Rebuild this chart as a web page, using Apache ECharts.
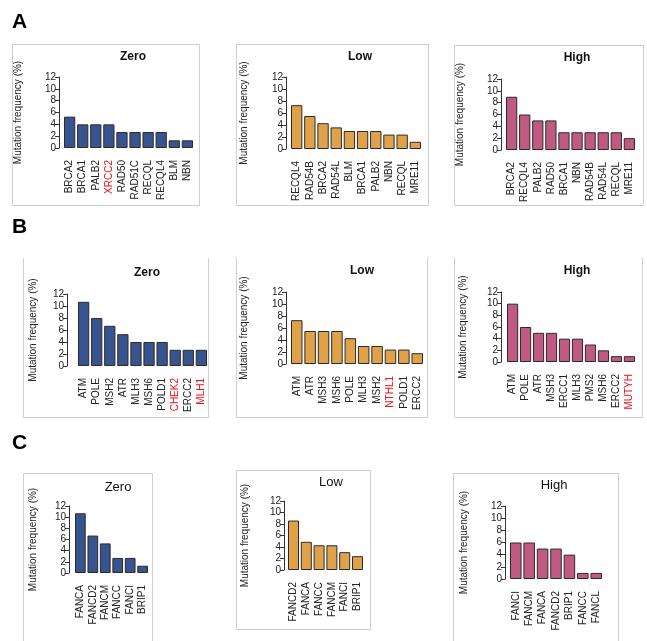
<!DOCTYPE html>
<html><head><meta charset="utf-8">
<script src="https://cdn.jsdelivr.net/npm/echarts@6/dist/echarts.min.js"></script>
<style>html,body{margin:0;padding:0;background:#fff}#c{width:647px;height:641px}</style>
</head><body><div id="c"></div>
<script>
// ---- data ----
const yTicks = [0, 2, 4, 6, 8, 10, 12];
const groupTitles = ['Zero', 'Low', 'High'];
const panelLetters = ['A', 'B', 'C'];
const yAxisTitle = 'Mutation frequency (%)';

const aZeroGenes = ['BRCA2','BRCA1','PALB2','XRCC2','RAD50','RAD51C','RECQL','RECQL4','BLM','NBN'];
const aZeroFreq  = [5.3, 4.0, 4.0, 4.0, 2.7, 2.7, 2.7, 2.7, 1.3, 1.3];
const aLowGenes  = ['RECQL4','RAD54B','BRCA2','RAD54L','BLM','BRCA1','PALB2','NBN','RECQL','MRE11'];
const aLowFreq   = [7.3, 5.5, 4.3, 3.6, 3.0, 3.0, 3.0, 2.4, 2.4, 1.2];
const aHighGenes = ['BRCA2','RECQL4','PALB2','RAD50','BRCA1','NBN','RAD54B','RAD54L','RECQL','MRE11'];
const aHighFreq  = [9, 6, 5, 5, 3, 3, 3, 3, 3, 2];

const bZeroGenes = ['ATM','POLE','MSH2','ATR','MLH3','MSH6','POLD1','CHEK2','ERCC2','MLH1'];
const bZeroFreq  = [10.7, 8.0, 6.7, 5.3, 4.0, 4.0, 4.0, 2.7, 2.7, 2.7];
const bLowGenes  = ['ATM','ATR','MSH3','MSH6','POLE','MLH3','MSH2','NTHL1','POLD1','ERCC2'];
const bLowFreq   = [7.3, 5.5, 5.5, 5.5, 4.3, 3.0, 3.0, 2.4, 2.4, 1.8];
const bHighGenes = ['ATM','POLE','ATR','MSH3','ERCC1','MLH3','PMS2','MSH6','ERCC2','MUTYH'];
const bHighFreq  = [10, 6, 5, 5, 4, 4, 3, 2, 1, 1];

const cZeroGenes = ['FANCA','FANCD2','FANCM','FANCC','FANCI','BRIP1'];
const cZeroFreq  = [10.7, 6.7, 5.3, 2.7, 2.7, 1.3];
const cLowGenes  = ['FANCD2','FANCA','FANCC','FANCM','FANCI','BRIP1'];
const cLowFreq   = [8.6, 4.9, 4.3, 4.3, 3.1, 2.4];
const cHighGenes = ['FANCI','FANCM','FANCA','FANCD2','BRIP1','FANCC','FANCL'];
const cHighFreq  = [6, 6, 5, 5, 4, 1, 1];

const redGenes = {
  aZero: ['XRCC2'], bZero: ['CHEK2','MLH1'], bLow: ['NTHL1'], bHigh: ['MUTYH']
};

// ---- layout / styles ----
const groupColors = ['#37548f', '#dfa24a', '#c15a83'];
const panels = [
  {genes:aZeroGenes, vals:aZeroFreq, red:redGenes.aZero, g:0, bs:64, be:193, yt:77, y0:148, ax:59, tx:128, ty:53, nx:17, bold:true},
  {genes:aLowGenes,  vals:aLowFreq,  red:[], g:1, bs:291, be:421, yt:77, y0:149, ax:286, tx:355, ty:53, nx:243, bold:true},
  {genes:aHighGenes, vals:aHighFreq, red:[], g:2, bs:506, be:635, yt:79, y0:150, ax:501, tx:572, ty:54, nx:459, bold:true},
  {genes:bZeroGenes, vals:bZeroFreq, red:redGenes.bZero, g:0, bs:78, be:207, yt:294, y0:366, ax:67, tx:142, ty:269, nx:32, bold:true},
  {genes:bLowGenes,  vals:bLowFreq,  red:redGenes.bLow, g:1, bs:291, be:423, yt:292, y0:364, ax:286, tx:357, ty:267, nx:243, bold:true},
  {genes:bHighGenes, vals:bHighFreq, red:redGenes.bHigh, g:2, bs:507, be:635, yt:292, y0:362, ax:501, tx:572, ty:267, nx:462, bold:true},
  {genes:cZeroGenes, vals:cZeroFreq, red:[], g:0, bs:75, be:148, yt:506, y0:573, ax:69, tx:113, ty:483, nx:32, bold:false},
  {genes:cLowGenes,  vals:cLowFreq,  red:[], g:1, bs:288, be:363, yt:501, y0:570, ax:284, tx:326, ty:478, nx:244, bold:false},
  {genes:cHighGenes, vals:cHighFreq, red:[], g:2, bs:510, be:602, yt:506, y0:579, ax:505, tx:549, ty:481, nx:463, bold:false}
];

const FONT = 'Liberation Sans, Arial, sans-serif';
const grids = [], xAxes = [], yAxes = [], series = [], titles = [];
panels.forEach((p, i) => {
  const n = p.genes.length;
  const gapFrac = 0.14;
  const w = (p.be - p.bs) / (n - gapFrac);
  const left = p.bs - w * gapFrac / 2;
  grids.push({left: left, top: p.yt, width: w * n, height: p.y0 - p.yt});
  xAxes.push({
    type: 'category', gridIndex: i, data: p.genes,
    axisLine: {show: false}, axisTick: {show: false},
    axisLabel: {rotate: 90, fontSize: 10, fontFamily: FONT, margin: 12, interval: 0,
      color: (v) => p.red.indexOf(v) >= 0 ? '#e8141b' : '#222'}
  });
  yAxes.push({
    type: 'value', gridIndex: i, min: yTicks[0], max: yTicks[yTicks.length-1],
    interval: yTicks[1] - yTicks[0], offset: left - p.ax,
    splitLine: {show: false},
    axisLine: {show: true, lineStyle: {color: '#333', width: 1}},
    axisTick: {show: true, length: 4, lineStyle: {color: '#333'}},
    axisLabel: {fontSize: 10, fontFamily: FONT, color: '#222', margin: 3},
    name: yAxisTitle, nameLocation: 'middle', nameGap: p.ax - p.nx - 6,
    nameTextStyle: {fontSize: 10, fontFamily: FONT, color: '#222'}
  });
  series.push({
    type: 'bar', xAxisIndex: i, yAxisIndex: i, data: p.vals,
    barCategoryGap: (gapFrac * 100) + '%',
    itemStyle: {color: groupColors[p.g], borderColor: '#2e2a28', borderWidth: 1},
    silent: true, animation: false
  });
  titles.push({
    text: groupTitles[p.g], left: p.tx, top: p.ty - 7, textAlign: 'center',
    textStyle: {fontSize: p.bold ? 12 : 13, fontWeight: p.bold ? 'bold' : 'normal', fontFamily: FONT, color: '#111'}
  });
});

const frameStyle = {stroke: '#cfcfcf', lineWidth: 1, fill: null};
function rect(x1, y1, x2, y2) {
  return {type: 'rect', shape: {x: x1 + 0.5, y: y1 + 0.5, width: x2 - x1, height: y2 - y1}, style: frameStyle, silent: true};
}
function poly(pts) {
  return {type: 'polyline', shape: {points: pts.map(q => [q[0] + 0.5, q[1] + 0.5])}, style: frameStyle, silent: true};
}
const graphics = [
  rect(12, 44, 199, 205), rect(236, 44, 428, 205), rect(454, 45, 643, 205),
  poly([[23, 258], [23, 417], [208, 417], [208, 258]]),
  poly([[236, 257], [236, 417], [427, 417], [427, 257]]),
  poly([[454, 257], [454, 417], [642, 417], [642, 257]]),
  poly([[23, 641], [23, 473], [152, 473], [152, 641]]),
  rect(236, 470, 370, 629),
  poly([[453, 641], [453, 473], [618, 473], [618, 641]]),
  {type: 'text', left: 12, top: 12, style: {text: panelLetters[0], font: 'bold 21px ' + FONT, fill: '#000'}},
  {type: 'text', left: 12, top: 217, style: {text: panelLetters[1], font: 'bold 21px ' + FONT, fill: '#000'}},
  {type: 'text', left: 12, top: 433, style: {text: panelLetters[2], font: 'bold 21px ' + FONT, fill: '#000'}}
];

const chart = echarts.init(document.getElementById('c'), null, {renderer: 'canvas'});
chart.setOption({
  animation: false, backgroundColor: '#fff',
  title: titles, grid: grids, xAxis: xAxes, yAxis: yAxes, series: series, graphic: graphics
});
</script></body></html>
